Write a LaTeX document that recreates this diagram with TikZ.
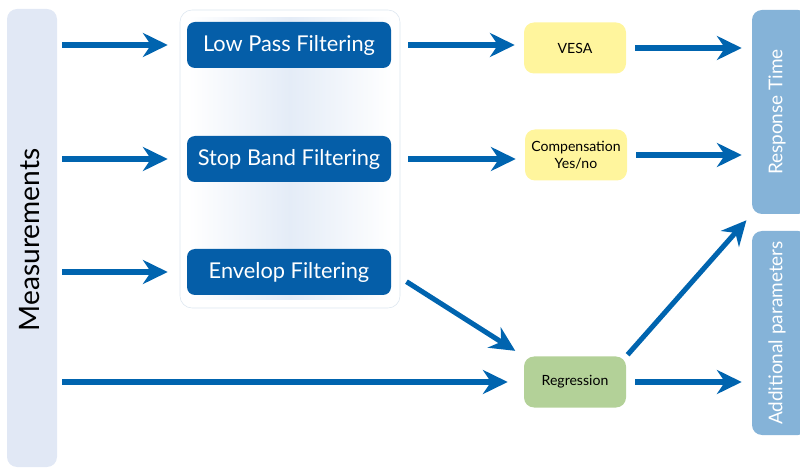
\documentclass[tikz,border=0pt]{standalone}
\usepackage{fontspec}
\setmainfont{Lato}
\usetikzlibrary{arrows.meta}
\definecolor{arrowblue}{RGB}{0,100,175}
\definecolor{filterblue}{RGB}{5,94,168}
\definecolor{measfill}{RGB}{225,232,245}
\definecolor{sidefill}{RGB}{133,179,216}
\definecolor{vesayellow}{RGB}{255,245,157}
\definecolor{regrgreen}{RGB}{179,209,152}
\definecolor{framegray}{RGB}{220,230,240}
\definecolor{glowblue}{RGB}{228,236,247}
\begin{document}
\begin{tikzpicture}[
  flow/.style={line width=3.6pt, draw=arrowblue, -{Stealth[length=0.62cm, width=0.6cm]}},
  filterbox/.style={rounded corners=0.2cm, fill=filterblue, text=white, minimum width=5.1cm, minimum height=1.15cm, font=\fontsize{15.5}{18}\selectfont},
  resultbox/.style={rounded corners=0.25cm, minimum width=2.55cm, minimum height=1.275cm, align=center, font=\fontsize{10}{12}\selectfont},
  sidebar/.style={rounded corners=0.25cm, minimum width=1.4cm, minimum height=5.1cm, fill=sidefill},
  sidelabel/.style={rotate=90, text=white, font=\fontsize{13.5}{16}\selectfont}
]
\useasboundingbox (0,0) rectangle (20,-11.7);
\clip (0,0) rectangle (20,-11.7);

% Input column
\node[fill=measfill, rounded corners=0.25cm, minimum width=1.25cm, minimum height=11.45cm] (meas) at (0.8,-5.95) {};
\node[rotate=90, font=\fontsize{20}{24}\selectfont] (measlabel) at (0.75,-6.0) {Measurements};

% Filter block
\node[draw=framegray, fill=white, rounded corners=0.3cm, minimum width=5.5cm, minimum height=7.45cm] (frame) at (7.25,-3.975) {};
\node[left color=white, right color=white, middle color=glowblue, minimum width=5.1cm, minimum height=7.05cm] (glow) at (frame) {};
\node[filterbox] (lowpass) at (7.225,-1.125) {Low Pass Filtering};
\node[filterbox] (stopband) at (7.225,-3.975) {Stop Band Filtering};
\node[filterbox] (envelop) at (7.225,-6.8) {Envelop Filtering};

% Results
\node[resultbox, fill=vesayellow] (vesa) at (14.375,-1.2) {VESA};
\node[resultbox, fill=vesayellow] (comp) at (14.4,-3.875) {Compensation\\Yes/no};
\node[resultbox, fill=regrgreen] (regr) at (14.375,-9.55) {Regression};

% Output columns
\node[sidebar] (resp) at (19.5,-2.8) {};
\node[sidelabel] (resplabel) at (19.425,-2.8) {Response Time};
\node[sidebar] (addp) at (19.5,-8.325) {};
\node[sidelabel] (addplabel) at (19.425,-8.325) {Additional parameters};

% Connectors
\draw[flow, shorten <=0.125cm, shorten >=0.475cm] (meas.east |- lowpass.west) -- (lowpass.west);
\draw[flow, shorten <=0.125cm, shorten >=0.475cm] (meas.east |- stopband.west) -- (stopband.west);
\draw[flow, shorten <=0.125cm, shorten >=0.475cm] (meas.east |- envelop.west) -- (envelop.west);
\draw[flow, shorten <=0.125cm, shorten >=0.4cm] (meas.east |- regr.west) -- (regr.west);
\draw[flow, shorten <=0.425cm, shorten >=0.225cm] (lowpass.east) -- (lowpass.east -| vesa.west);
\draw[flow, shorten <=0.425cm, shorten >=0.225cm] (stopband.east) -- (stopband.east -| comp.west);
\draw[flow, shorten <=0.45cm, shorten >=0.25cm] (envelop.east) -- (regr.north west);
\draw[flow, shorten <=0.225cm, shorten >=0.25cm] (vesa.east) -- (vesa.east -| resp.west);
\draw[flow, shorten <=0.225cm, shorten >=0.25cm] (comp.east) -- (comp.east -| resp.west);
\draw[flow, shorten <=0.05cm, shorten >=0.2cm] (regr.north east) -- (resp.south west);
\draw[flow, shorten <=0.225cm, shorten >=0.25cm] (regr.east) -- (regr.east -| addp.west);
\end{tikzpicture}
\end{document}
